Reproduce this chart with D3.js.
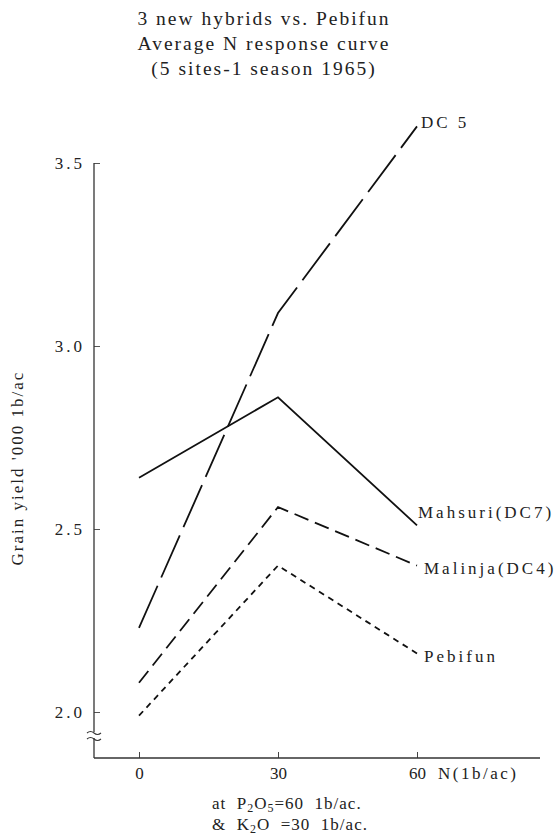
<!DOCTYPE html>
<html>
<head>
<meta charset="utf-8">
<script src="https://cdn.jsdelivr.net/npm/d3@7"></script>
<style>
  body { margin: 0; background: #fff; }
  svg text { font-family: "Liberation Serif", "DejaVu Serif", serif; fill: #222; }
</style>
</head>
<body>
<svg id="chart" width="559" height="837"></svg>
<script>
// Nitrogen levels (lb/ac) and grain yields ('000 lb/ac)
var nLevels = [0, 30, 60];
var dc5 = [2.23, 3.09, 3.60];
var mahsuri = [2.64, 2.86, 2.51];
var malinja = [2.08, 2.56, 2.40];
var pebifun = [1.99, 2.40, 2.16];

var yTicks = [2.0, 2.5, 3.0, 3.5];
var titleLines = ["3 new hybrids vs. Pebifun", "Average N response curve", "(5 sites-1 season 1965)"];

var series = [
    { name: "DC 5", values: dc5, dash: "46,9", dx: 4, dy: -4 },
    { name: "Mahsuri(DC7)", values: mahsuri, dash: null, dx: 1, dy: -13 },
    { name: "Malinja(DC4)", values: malinja, dash: "15,7", dx: 7, dy: 2 },
    { name: "Pebifun", values: pebifun, dash: "6,5", dx: 7, dy: 3 }
];

var svg = d3.select("#chart");

var x = d3.scaleLinear().domain([0, 60]).range([139, 417]);
var y = d3.scaleLinear().domain([2.0, 3.5]).range([712, 163]);

var axisX = 94, baseY = 758;

// Title
svg.append("g").selectAll("text")
    .data(titleLines)
  .enter().append("text")
    .attr("x", 264)
    .attr("y", function (d, i) { return 25 + i * 25; })
    .attr("text-anchor", "middle")
    .attr("font-size", 19.5)
    .attr("letter-spacing", 2)
    .text(function (d) { return d; });

// Y axis, ticks pointing inward, domain drawn by hand because of the break
var yAxis = d3.axisLeft(y)
    .tickValues(yTicks)
    .tickFormat(d3.format(".1f"))
    .tickSizeInner(-6)
    .tickSizeOuter(0)
    .tickPadding(9);

var gy = svg.append("g")
    .attr("transform", "translate(" + axisX + ",0)")
    .call(yAxis);
gy.select(".domain").remove();
gy.selectAll(".tick line").attr("stroke", "#555").attr("stroke-width", 1);
gy.selectAll(".tick text")
    .attr("font-size", 17)
    .attr("letter-spacing", 3)
    .style("font-family", "'Liberation Serif', serif")
    .attr("fill", "#333");

svg.append("line")
    .attr("x1", axisX).attr("x2", axisX)
    .attr("y1", y(3.5)).attr("y2", 732)
    .attr("stroke", "#333").attr("stroke-width", 1.3);
svg.append("line")
    .attr("x1", axisX).attr("x2", axisX)
    .attr("y1", 738).attr("y2", baseY)
    .attr("stroke", "#333").attr("stroke-width", 1.3);

// Axis break squiggles
[732, 738].forEach(function (by) {
    svg.append("path")
        .attr("d", "M" + (axisX - 7) + "," + (by + 1) +
            " q3.5,-3 7,0 q3.5,3 7,0")
        .attr("fill", "none")
        .attr("stroke", "#333")
        .attr("stroke-width", 1.1);
});

// X axis, ticks pointing up
var xAxis = d3.axisBottom(x)
    .tickValues(nLevels)
    .tickSizeInner(-6)
    .tickSizeOuter(0)
    .tickPadding(9);

var gx = svg.append("g")
    .attr("transform", "translate(0," + baseY + ")")
    .call(xAxis);
gx.select(".domain").remove();
gx.selectAll(".tick line").attr("stroke", "#444").attr("stroke-width", 1);
gx.selectAll(".tick text")
    .attr("font-size", 17)
    .style("font-family", "'Liberation Serif', serif")
    .attr("fill", "#222");

svg.append("line")
    .attr("x1", axisX).attr("x2", 540)
    .attr("y1", baseY).attr("y2", baseY)
    .attr("stroke", "#333").attr("stroke-width", 1.4);

svg.append("text")
    .attr("x", 438)
    .attr("y", 779)
    .attr("font-size", 17)
    .attr("letter-spacing", 2.5)
    .text("N(1b/ac)");

// Y axis title
svg.append("text")
    .attr("transform", "translate(23,468) rotate(-90)")
    .attr("text-anchor", "middle")
    .attr("font-size", 17)
    .attr("letter-spacing", 2)
    .text("Grain yield '000 1b/ac");

// Lines
var line = d3.line()
    .x(function (d, i) { return x(nLevels[i]); })
    .y(function (d) { return y(d); });

svg.append("g").selectAll("path")
    .data(series)
  .enter().append("path")
    .attr("d", function (d) { return line(d.values); })
    .attr("fill", "none")
    .attr("stroke", "#111")
    .attr("stroke-width", 1.8)
    .attr("stroke-dasharray", function (d) { return d.dash; });

// End labels
svg.append("g").selectAll("text")
    .data(series)
  .enter().append("text")
    .attr("x", function (d) { return x(60) + d.dx; })
    .attr("y", function (d) { return y(d.values[2]) + d.dy; })
    .attr("font-size", 17)
    .attr("letter-spacing", 3)
    .attr("dy", "0.35em")
    .text(function (d) { return d.name; });

// Fertiliser note
var note1 = svg.append("text").attr("x", 212).attr("y", 809).attr("font-size", 17)
    .attr("letter-spacing", 1).style("white-space", "pre");
note1.append("tspan").text("at  P");
note1.append("tspan").attr("font-size", 12).attr("dy", 3).text("2");
note1.append("tspan").attr("dy", -3).text("O");
note1.append("tspan").attr("font-size", 12).attr("dy", 3).text("5");
note1.append("tspan").attr("dy", -3).text("=60  1b/ac.");

var note2 = svg.append("text").attr("x", 212).attr("y", 830).attr("font-size", 17)
    .attr("letter-spacing", 1).style("white-space", "pre");
note2.append("tspan").text("&  K");
note2.append("tspan").attr("font-size", 12).attr("dy", 3).text("2");
note2.append("tspan").attr("dy", -3).text("O  =30  1b/ac.");
</script>
</body>
</html>
